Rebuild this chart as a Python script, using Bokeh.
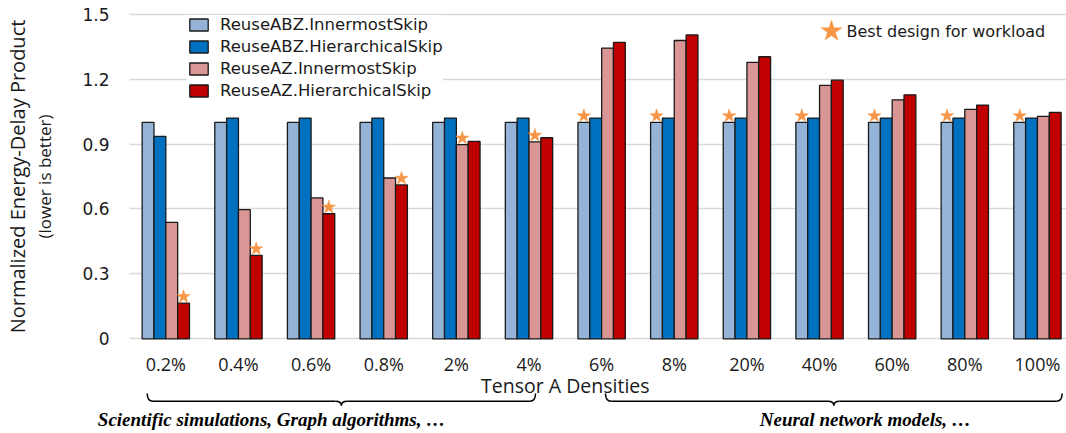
from bokeh.plotting import figure
from bokeh.models import Range1d, FixedTicker, LinearAxis, Legend, LegendItem, ColumnDataSource, Label
from bokeh.embed import file_html
from bokeh.resources import INLINE
from bokeh.core.properties import value
import numpy as np

# ---------------- data ----------------
categories = ["0.2%", "0.4%", "0.6%", "0.8%", "2%", "4%", "6%", "8%",
              "20%", "40%", "60%", "80%", "100%"]
series_names = ["ReuseABZ.InnermostSkip", "ReuseABZ.HierarchicalSkip",
                "ReuseAZ.InnermostSkip", "ReuseAZ.HierarchicalSkip"]
abz_innermost = [1.00, 1.00, 1.00, 1.00, 1.00, 1.00, 1.00, 1.00, 1.00, 1.00, 1.00, 1.00, 1.00]
abz_hierarchical = [0.935, 1.02, 1.02, 1.02, 1.02, 1.02, 1.02, 1.02, 1.02, 1.02, 1.02, 1.02, 1.02]
az_innermost = [0.538, 0.597, 0.651, 0.743, 0.897, 0.910, 1.343, 1.378, 1.277, 1.171, 1.104, 1.060, 1.028]
az_hierarchical = [0.165, 0.386, 0.578, 0.711, 0.912, 0.929, 1.369, 1.404, 1.303, 1.195, 1.127, 1.080, 1.046]
series_colors = ["#95B3D7", "#0070C0", "#DA9694", "#C00000"]
y_ticks = [0, 0.3, 0.6, 0.9, 1.2, 1.5]
y_tick_labels = ["0", "0.3", "0.6", "0.9", "1.2", "1.5"]
best_label = "Best design for workload"
x_axis_title = "Tensor A Densities"
y_axis_title = "Normalized Energy-Delay Product"
y_axis_subtitle = "(lower is better)"
group_captions = ["Scientific simulations, Graph algorithms, \u2026", "Neural network models, \u2026"]

# ---------------- layout constants ----------------
W, H = 1066, 433
FRAME_LEFT, FRAME_TOP, FRAME_H = 129, 11, 330
X0, X1 = -0.5, 12.4
Y0, Y1 = -0.012, 1.512
BW = 0.163
STAR_COLOR = "#F79646"
TXT = "#1a1a1a"
PX = FRAME_H / (Y1 - Y0)          # pixels per y unit


def below_zero(px):
    """y value lying px pixels below the zero line (annotations under the axis)."""
    return -px / PX


p = figure(width=W, height=H, x_range=Range1d(X0, X1), y_range=Range1d(Y0, Y1),
           output_backend="svg", toolbar_location=None,
           min_border_left=FRAME_LEFT, min_border_right=0, min_border_top=FRAME_TOP,
           min_border_bottom=H - FRAME_TOP - FRAME_H)
p.outline_line_color = None

series = [abz_innermost, abz_hierarchical, az_innermost, az_hierarchical]
xi = np.arange(len(categories))
renderers = []
for k, (vals, color) in enumerate(zip(series, series_colors)):
    src = ColumnDataSource(dict(x=xi + (k - 1.5) * BW, top=vals))
    r = p.vbar(x="x", top="top", bottom=0, width=BW, source=src,
               fill_color=color, line_color="#1a1a1a", line_width=1.3)
    renderers.append(r)

vals = np.array(series)
best = vals.argmin(axis=0)
star_src = ColumnDataSource(dict(x=xi + (best - 1.5) * BW, y=vals[best, xi] + 0.03))
p.scatter(x="x", y="y", source=star_src, marker="star", size=14,
          fill_color=STAR_COLOR, line_color=STAR_COLOR, line_width=0.5)

# ---------------- axes ----------------
p.xgrid.visible = False
p.ygrid.grid_line_color = "#D9D9D9"
p.ygrid.grid_line_width = 1.5

p.yaxis.ticker = FixedTicker(ticks=y_ticks)
p.yaxis.major_label_overrides = dict(zip(y_ticks, y_tick_labels))
p.yaxis.axis_line_color = None
p.yaxis.major_tick_line_color = None
p.yaxis.minor_tick_line_color = None
p.yaxis.major_tick_out = 0
p.yaxis.major_tick_in = 0
p.yaxis.major_label_standoff = 20
p.yaxis.major_label_text_font = "DejaVu Sans"
p.yaxis.major_label_text_font_size = "17px"
p.yaxis.major_label_text_color = TXT
p.yaxis.axis_label = y_axis_subtitle
p.yaxis.axis_label_text_font = "Open Sans"
p.yaxis.axis_label_text_font_size = "17px"
p.yaxis.axis_label_text_font_style = "normal"
p.yaxis.axis_label_text_color = TXT
p.yaxis.axis_label_standoff = 23

ax2 = LinearAxis(ticker=FixedTicker(ticks=[]), axis_label=y_axis_title,
                 axis_line_color=None, major_tick_line_color=None, minor_tick_line_color=None,
                 major_label_text_font_size="0px", major_tick_out=0, major_tick_in=0,
                 major_label_standoff=0, axis_label_standoff=0,
                 axis_label_text_font="Open Sans", axis_label_text_font_size="20px",
                 axis_label_text_font_style="normal", axis_label_text_color=TXT)
p.add_layout(ax2, "left")

p.xaxis.ticker = FixedTicker(ticks=list(range(len(categories))))
p.xaxis.major_label_overrides = {i: c for i, c in enumerate(categories)}
p.xaxis.axis_line_color = None
p.xaxis.major_tick_line_color = None
p.xaxis.minor_tick_line_color = None
p.xaxis.major_tick_out = 0
p.xaxis.major_tick_in = 0
p.xaxis.major_label_standoff = 10
p.xaxis.major_label_text_font = "Open Sans"
p.xaxis.major_label_text_font_size = "18px"
p.xaxis.major_label_text_color = TXT

# ---------------- legends ----------------
legend1 = Legend(items=[LegendItem(label=n, renderers=[r]) for n, r in zip(series_names, renderers)],
                 location=(58, 241.3), glyph_width=23, glyph_height=15, label_height=15,
                 spacing=3, padding=0, margin=0, label_standoff=10,
                 label_text_font="DejaVu Sans", label_text_font_size="16.5px",
                 label_text_color=TXT, border_line_color=None,
                 background_fill_color="white", background_fill_alpha=1.0)
p.add_layout(legend1)

KEY_X, KEY_TEXT_X, KEY_Y = 9.164, 9.371, 1.421
p.scatter(x=[KEY_X], y=[KEY_Y], marker="star", size=22,
          fill_color=STAR_COLOR, line_color=STAR_COLOR, line_width=0.5)
p.add_layout(Label(x=KEY_TEXT_X, y=KEY_Y, text=best_label, text_align="left",
                   text_baseline="middle", text_font="DejaVu Sans",
                   text_font_size="16px", text_color=TXT))

# ---------------- annotations under the category axis ----------------
p.text(x=[5.5], y=[below_zero(47.0)], text=[x_axis_title], text_align="center",
       text_baseline="alphabetic", text_font=value("Open Sans"),
       text_font_size="19.5px", text_color=TXT, level="overlay")

brace_spans = [(-0.256, 5.09), (6.053, 12.34)]
caption_x = [1.455, 9.63]
TOP, MID, TIP = below_zero(54.6), below_zero(62.3), below_zero(66.6)
R = 0.08
for (a, b) in brace_spans:
    c = (a + b) / 2
    p.quadratic(x0=[a, c - R, c, b], y0=[TOP, MID, TIP, TOP],
                x1=[a + R, c, c + R, b - R], y1=[MID, TIP, MID, MID],
                cx=[a, c, c, b], cy=[MID, MID, MID, MID],
                line_color="black", line_width=1.5, level="overlay")
    p.segment(x0=[a + R, c + R], y0=[MID, MID], x1=[c - R, b - R], y1=[MID, MID],
              line_color="black", line_width=1.5, level="overlay")

p.text(x=caption_x, y=[below_zero(80.5)] * 2, text=group_captions, text_align="center",
       text_baseline="alphabetic", text_font=value("Liberation Serif"),
       text_font_style="bold italic", text_font_size="19px",
       text_color="black", level="overlay")

open("out.html", "w").write(file_html(p, INLINE))
